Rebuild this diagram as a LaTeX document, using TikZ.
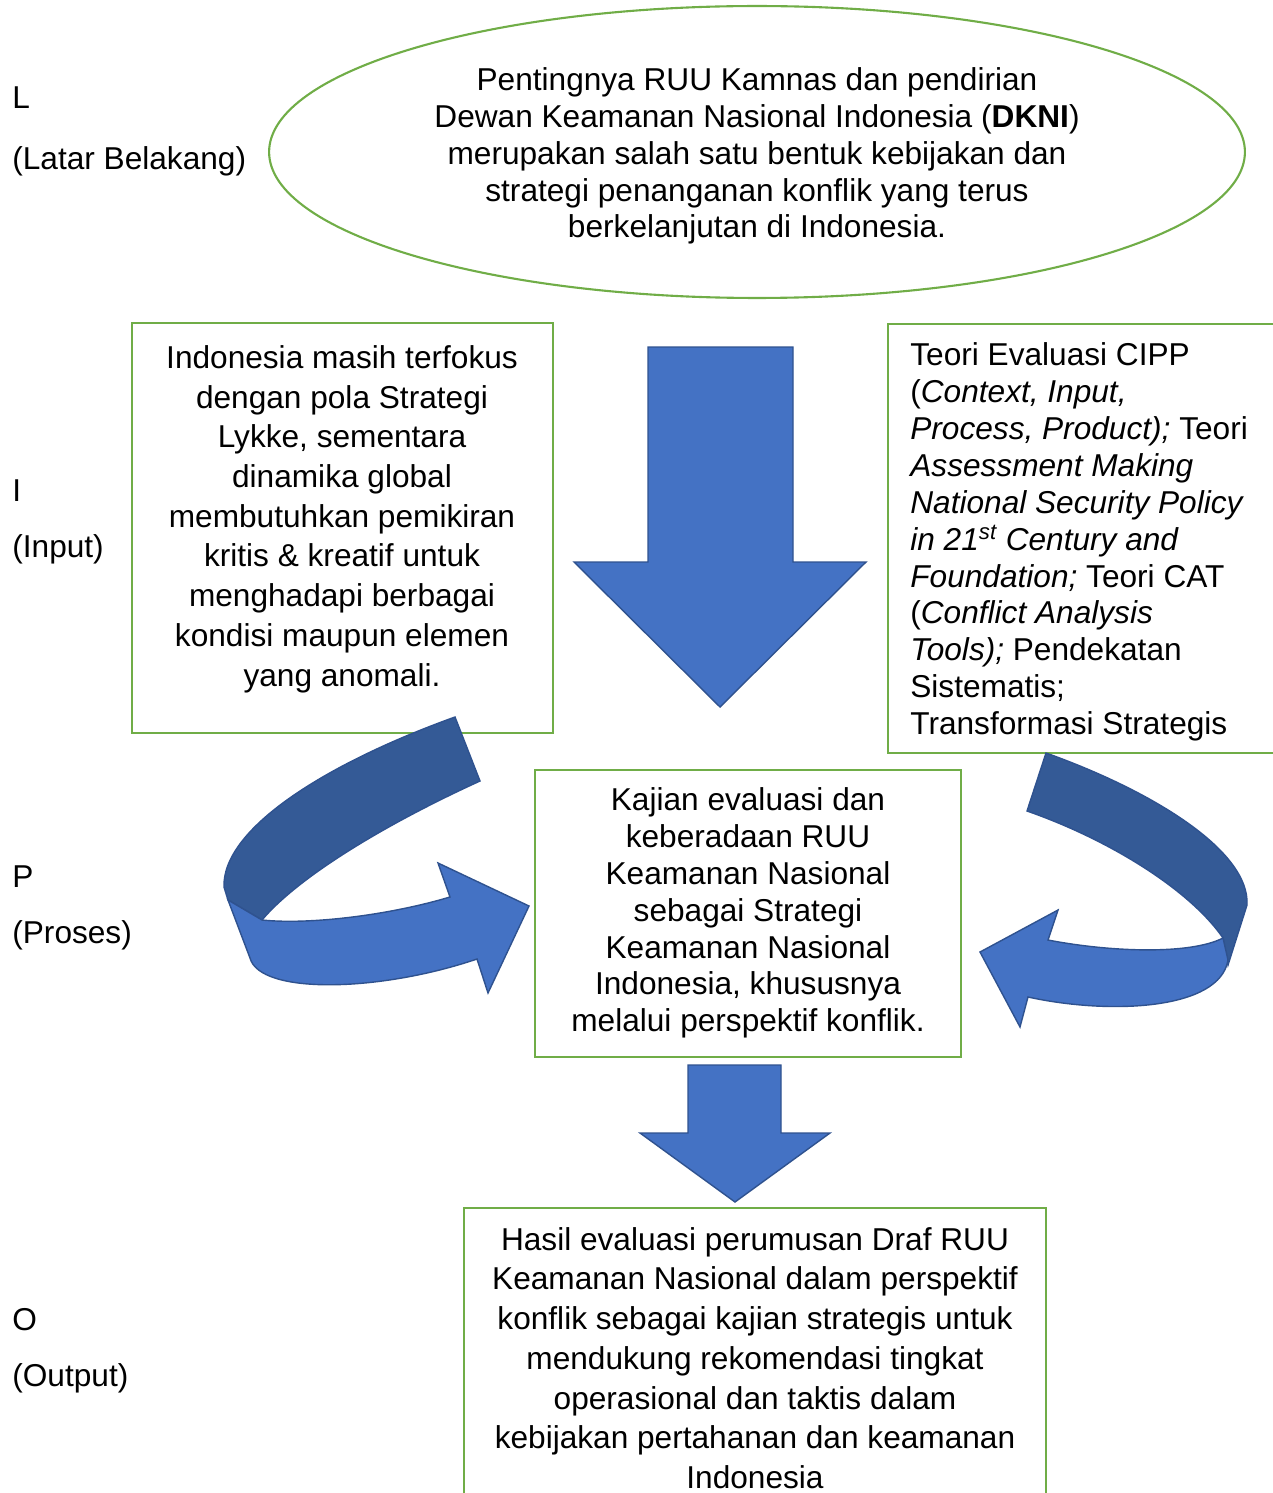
\documentclass[tikz,border=0pt]{standalone}
\usepackage{fontspec}
\setmainfont{Liberation Sans}
\usepackage[svgnames]{xcolor}
\usepackage{tikz}
\usetikzlibrary{shapes.geometric}
\pgfdeclarelayer{nodelayer}
\pgfdeclarelayer{arrowlayer}
\pgfsetlayers{nodelayer,arrowlayer,main}
\tikzstyle{none}=[inner sep=0pt]
\tikzstyle{frame_box}=[draw={rgb,255: red,112; green,173; blue,71}, line width=1.4pt, shape=rectangle]
\tikzstyle{frame_ellipse}=[draw={rgb,255: red,112; green,173; blue,71}, line width=1.2pt, shape=ellipse, inner sep=0pt]
\tikzstyle{box_text}=[inner sep=0pt, align=center, font=\fontsize{18}{21}\selectfont]
\tikzstyle{wide_text}=[inner sep=0pt, align=center, font=\fontsize{18}{22.6}\selectfont]
\tikzstyle{side_label}=[inner sep=0pt, anchor=base west, font=\fontsize{18}{21}\selectfont]
\tikzstyle{block_arrow}=[fill={rgb,255: red,68; green,114; blue,196}, draw={rgb,255: red,47; green,82; blue,143}, line width=0.8pt]
\tikzstyle{ribbon_back}=[fill={rgb,255: red,52; green,90; blue,150}, draw={rgb,255: red,47; green,82; blue,143}, line width=0.8pt]

\begin{document}
\begin{tikzpicture}[x=0.02cm, y=-0.02cm]
    \useasboundingbox (0,0) rectangle (1273,1493);
    \begin{pgfonlayer}{nodelayer}
        % row labels
        \node [style=side_label] (0) at (12, 109) {L};
        \node [style=side_label] (1) at (12, 170) {(Latar Belakang)};
        \node [style=side_label] (2) at (12, 501) {I};
        \node [style=side_label] (3) at (12, 557) {(Input)};
        \node [style=side_label] (4) at (12, 887) {P};
        \node [style=side_label] (5) at (12, 943) {(Proses)};
        \node [style=side_label] (6) at (12, 1330) {O};
        \node [style=side_label] (7) at (12, 1386) {(Output)};

        % background
        \node [style=frame_ellipse, minimum width=19.52cm, minimum height=5.84cm] (10) at (757, 152) {};
        \node [style=box_text] (11) at (757, 156) {Pentingnya RUU Kamnas dan pendirian\\
            Dewan Keamanan Nasional Indonesia (\textbf{DKNI})\\
            merupakan salah satu bentuk kebijakan dan\\
            strategi penanganan konflik yang terus\\
            berkelanjutan di Indonesia.};

        % input, left
        \node [style=frame_box, minimum width=8.42cm, minimum height=8.2cm] (20) at (342.5, 528) {};
        \node [style=wide_text] (21) at (342, 519) {Indonesia masih terfokus\\
            dengan pola Strategi\\
            Lykke, sementara\\
            dinamika global\\
            membutuhkan pemikiran\\
            kritis \& kreatif untuk\\
            menghadapi berbagai\\
            kondisi maupun elemen\\
            yang anomali.};

        % input, right
        \node [style=frame_box, minimum width=8.24cm, minimum height=8.58cm] (30) at (1094, 538.5) {};
        \node [style=box_text, anchor=west, align=left] (31) at (910, 542) {Teori Evaluasi CIPP\\
            (\textit{Context, Input,}\\
            \textit{Process, Product);} Teori\\
            \textit{Assessment Making}\\
            \textit{National Security Policy}\\
            \textit{in 21\textsuperscript{st} Century and}\\
            \textit{Foundation;} Teori CAT\\
            (\textit{Conflict Analysis}\\
            \textit{Tools);} Pendekatan\\
            Sistematis;\\
            Transformasi Strategis};

        % process
        \node [style=frame_box, minimum width=8.52cm, minimum height=5.74cm] (40) at (748, 913.5) {};
        \node [style=box_text] (41) at (748, 913) {Kajian evaluasi dan\\
            keberadaan RUU\\
            Keamanan Nasional\\
            sebagai Strategi\\
            Keamanan Nasional\\
            Indonesia, khususnya\\
            melalui perspektif konflik.};

        % output
        \node [style=frame_box, minimum width=11.64cm, minimum height=6.44cm] (50) at (755, 1369) {};
        \node [style=wide_text] (51) at (755, 1358) {Hasil evaluasi perumusan Draf RUU\\
            Keamanan Nasional dalam perspektif\\
            konflik sebagai kajian strategis untuk\\
            mendukung rekomendasi tingkat\\
            operasional dan taktis dalam\\
            kebijakan pertahanan dan keamanan\\
            Indonesia};
    \end{pgfonlayer}
    \begin{pgfonlayer}{arrowlayer}
        % straight arrows
        \draw [style=block_arrow] (648,347) -- (793,347) -- (793,562) -- (866,562) -- (720,707)
            -- (574,562) -- (648,562) -- cycle;
        \draw [style=block_arrow] (688,1065) -- (781,1065) -- (781,1133) -- (830,1133) -- (735,1202)
            -- (640,1133) -- (688,1133) -- cycle;

        % left curved arrow
        \draw [style=ribbon_back] (455,717) .. controls (322,765) and (222,830) .. (224,887)
            -- (228,900) -- (262,920) .. controls (300,875) and (390,822) .. (480,781) -- cycle;
        \draw [style=block_arrow] (228,900) -- (250,958) .. controls (260,995) and (380,992) .. (477,959)
            -- (488,993) -- (529,906) -- (438,863) -- (450,897)
            .. controls (390,915) and (310,925) .. (262,920) -- cycle;

        % right curved arrow
        \draw [style=ribbon_back] (1046,753) .. controls (1150,790) and (1250,850) .. (1247,905)
            -- (1228,965) -- (1223,938) .. controls (1190,890) and (1110,840) .. (1027,811) -- cycle;
        \draw [style=block_arrow] (1048,940) .. controls (1110,952) and (1190,955) .. (1223,938)
            -- (1228,960) .. controls (1220,1010) and (1110,1015) .. (1028,997)
            -- (1020,1027) -- (980,952) -- (1058,910) -- cycle;
    \end{pgfonlayer}
\end{tikzpicture}
\end{document}
